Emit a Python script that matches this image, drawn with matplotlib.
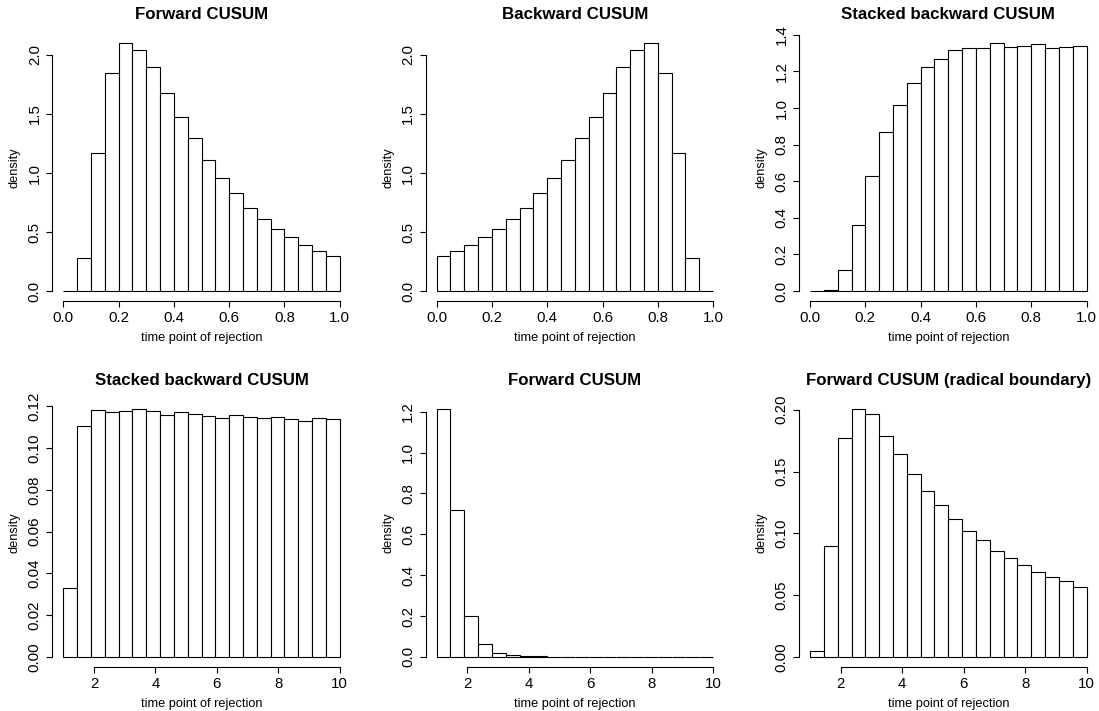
import numpy as np
import matplotlib
matplotlib.use("Agg")
import matplotlib.pyplot as plt

plt.rcParams['font.family'] = ['Liberation Sans', 'DejaVu Sans']

# ---- data ----
titles = ["Forward CUSUM", "Backward CUSUM", "Stacked backward CUSUM",
          "Stacked backward CUSUM", "Forward CUSUM", "Forward CUSUM (radical boundary)"]

edges_unit = np.round(np.linspace(0.0, 1.0, 21), 4)   # 20 bins of width 0.05
edges_ten = np.round(np.linspace(1.0, 10.0, 21), 4)   # 20 bins of width 0.45

fwd = [0.0, 0.277, 1.167, 1.845, 2.099, 2.042, 1.895, 1.678, 1.477, 1.294,
       1.107, 0.955, 0.831, 0.700, 0.613, 0.525, 0.455, 0.390, 0.342, 0.294]
bwd = [0.294, 0.342, 0.390, 0.455, 0.525, 0.613, 0.700, 0.831, 0.955, 1.107,
       1.294, 1.477, 1.678, 1.895, 2.042, 2.099, 1.845, 1.167, 0.277, 0.0]
stacked_unit = [0.0, 0.007, 0.113, 0.363, 0.631, 0.869, 1.018, 1.139, 1.223, 1.266,
                1.316, 1.327, 1.328, 1.354, 1.336, 1.341, 1.350, 1.327, 1.334, 1.338]
stacked_ten = [0.0330, 0.1106, 0.1184, 0.1171, 0.1179, 0.1187, 0.1176, 0.1158, 0.1171, 0.1163,
               0.1154, 0.1144, 0.1158, 0.1150, 0.1144, 0.1150, 0.1142, 0.1128, 0.1146, 0.1139]
fwd_ten = [1.213, 0.717, 0.199, 0.062, 0.021, 0.009, 0.004, 0.002, 0.0015, 0.001,
           0.0008, 0.0006, 0.0004, 0.0, 0.0, 0.0, 0.0, 0.0, 0.0, 0.0]
radical = [0.0049, 0.090, 0.1768, 0.2005, 0.1965, 0.1786, 0.164, 0.148, 0.134, 0.123,
           0.1114, 0.1016, 0.0946, 0.0854, 0.080, 0.0743, 0.0689, 0.0649, 0.0611, 0.0565]

heights = [fwd, bwd, stacked_unit, stacked_ten, fwd_ten, radical]
edges = [edges_unit, edges_unit, edges_unit, edges_ten, edges_ten, edges_ten]

xticks_unit = [0.0, 0.2, 0.4, 0.6, 0.8, 1.0]
xticks_ten = [2, 4, 6, 8, 10]
xticks = [xticks_unit] * 3 + [xticks_ten] * 3
xticklabels = [["0.0", "0.2", "0.4", "0.6", "0.8", "1.0"]] * 3 + [["2", "4", "6", "8", "10"]] * 3

yticks = [
    [0.0, 0.5, 1.0, 1.5, 2.0],
    [0.0, 0.5, 1.0, 1.5, 2.0],
    [0.0, 0.2, 0.4, 0.6, 0.8, 1.0, 1.2, 1.4],
    [0.0, 0.02, 0.04, 0.06, 0.08, 0.10, 0.12],
    [0.0, 0.2, 0.4, 0.6, 0.8, 1.0, 1.2],
    [0.0, 0.05, 0.10, 0.15, 0.20],
]
yticklabels = [
    ["0.0", "0.5", "1.0", "1.5", "2.0"],
    ["0.0", "0.5", "1.0", "1.5", "2.0"],
    ["0.0", "0.2", "0.4", "0.6", "0.8", "1.0", "1.2", "1.4"],
    ["0.00", "0.02", "0.04", "0.06", "0.08", "0.10", "0.12"],
    ["0.0", "0.2", "0.4", "0.6", "0.8", "1.0", "1.2"],
    ["0.00", "0.05", "0.10", "0.15", "0.20"],
]
xlabel = "time point of rejection"
ylabel = "density"

# ---- layout (pixel geometry of plot regions) ----
W, H = 1099, 711
fig = plt.figure(figsize=(W / 100, H / 100), dpi=100)
lefts = [52.2, 425.6, 799.0]
tops = [33.4, 399.2]
pw, ph = 298.6, 267.6

lw = 0.8
for i in range(6):
    r, c = divmod(i, 3)
    ax = fig.add_axes([lefts[c] / W, 1 - (tops[r] + ph) / H, pw / W, ph / H])
    e = np.asarray(edges[i])
    h = np.asarray(heights[i])
    ax.bar(e[:-1], h, width=np.diff(e), align='edge', facecolor='white',
           edgecolor='black', linewidth=lw)
    x0, x1 = e[0], e[-1]
    dx = 0.04 * (x1 - x0)
    ax.set_xlim(x0 - dx, x1 + dx)
    y0, y1 = 0.0, h.max()
    dy = 0.04 * (y1 - y0)
    ax.set_ylim(y0 - dy, y1 + dy)
    for s in ['top', 'right']:
        ax.spines[s].set_visible(False)
    ax.spines['left'].set_bounds(yticks[i][0], yticks[i][-1])
    ax.spines['bottom'].set_bounds(xticks[i][0], xticks[i][-1])
    ax.spines['left'].set_linewidth(lw)
    ax.spines['bottom'].set_linewidth(lw)
    ax.set_xticks(xticks[i])
    ax.set_xticklabels(xticklabels[i])
    ax.set_yticks(yticks[i])
    ax.set_yticklabels(yticklabels[i], rotation=90, va='center')
    ax.tick_params(axis='both', direction='out', length=4.5, width=lw,
                   labelsize=10.8, colors='black')
    ax.tick_params(axis='x', pad=3)
    ax.tick_params(axis='y', pad=3)
    ax.set_xlabel(xlabel, fontsize=9.2, labelpad=5)
    ax.set_ylabel(ylabel, fontsize=9.2, labelpad=5)
    ax.set_title(titles[i], fontsize=12.2, fontweight='bold', pad=10.5)
    ax.patch.set_alpha(0)

fig.savefig("out.png", dpi=100, facecolor='white')
